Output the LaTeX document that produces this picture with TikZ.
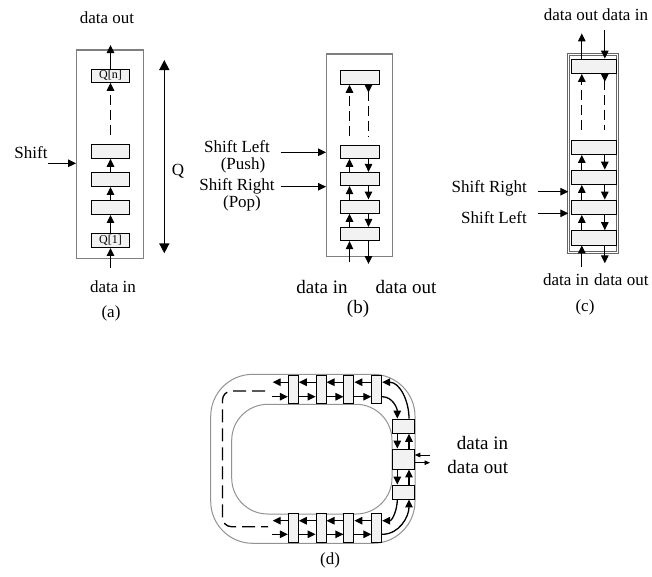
\documentclass[tikz,border=0pt]{standalone}
\usepackage{fontspec}
\setmainfont{Liberation Serif}
\usetikzlibrary{arrows.meta,calc}
\definecolor{cellgray}{HTML}{F2F2F2}
\definecolor{framegray}{HTML}{7F7F7F}
\newcommand\myfs[1]{\fontsize{#1}{#1}\selectfont}
\tikzset{
  cell/.style={draw=black, fill=cellgray, line width=0.9pt, inner sep=0pt},
  frame/.style={draw=framegray, line width=1.4pt, inner sep=0pt},
  cframe/.style={draw=framegray!80!black, double=white, line width=1pt, double distance=1.3pt, inner sep=0pt},
  dframe/.style={draw=framegray!85, line width=1pt, inner sep=0pt},
  arr/.style={-{Triangle[length=8pt,width=7.5pt]}, line width=1.3pt},
  rarr/.style={{Triangle[length=8pt,width=7.5pt,reversed]}-, line width=1.3pt},
  sarr/.style={-{Triangle[length=5.5pt,width=4.5pt]}, line width=0.9pt},
  qarr/.style={{Triangle[length=10pt,width=10pt]}-{Triangle[length=10pt,width=10pt]}, line width=1.5pt},
  dashpat/.style={dash pattern=on 10pt off 5pt},
  ddash/.style={dash pattern=on 13pt off 6pt, line width=1.3pt},
  t17/.style={font=\myfs{17}, inner sep=0pt},
  t19/.style={font=\myfs{19}, inner sep=0pt},
  qt/.style={font=\myfs{12}},
}
\begin{document}
\begin{tikzpicture}[x=1pt,y=1pt]
\useasboundingbox (0,0) rectangle (652,-576);
% ================= (a) =================
\node[frame, minimum width=66.6pt, minimum height=208.3pt] (fa) at (110,-154.2) {};
\node[cell, qt, minimum width=38pt, minimum height=13pt] (an) at (110.5,-75.8) {Q[n]};
\node[cell, minimum width=38pt, minimum height=14pt] (a4) at (110.5,-151.3) {};
\node[cell, minimum width=38pt, minimum height=14pt] (a3) at (110.5,-179.5) {};
\node[cell, minimum width=38pt, minimum height=14pt] (a2) at (110.5,-207.5) {};
\node[cell, qt, minimum width=38pt, minimum height=14pt] (a1) at (110.5,-240.5) {Q[1]};
\draw[arr] (a1.north) -- (a2.south);
\draw[arr] (a2.north) -- (a3.south);
\draw[arr] (a3.north) -- (a4.south);
\coordinate (adash) at (110.5,-135);
\draw[arr,dashpat] (adash) -- (an.south);
\coordinate (aout) at (110.5,-45);
\draw[arr] (an.north) -- (aout);
\coordinate (ain) at (110.5,-268);
\draw[arr] (ain) -- (a1.south);
\coordinate (ash) at (47.7,-163.3);
\draw[arr] (ash) -- (ash -| fa.west);
\coordinate (qtop) at (164.3,-60);
\coordinate (qbot) at (164.3,-253.3);
\draw[qarr] (qtop) -- (qbot);
\node[t17] (la1) at (107,-18) {data out};
\node[t17] (la2) at (31,-153) {Shift};
\node[t17] (la3) at (178,-171) {Q};
\node[t17] (la4) at (113,-287) {data in};
\node[t17] (la5) at (111,-313) {(a)};
% ================= (b) =================
\node[frame, minimum width=65.6pt, minimum height=202.7pt] (fb) at (359.5,-155.35) {};
\node[cell, minimum width=39pt, minimum height=13.6pt] (bn) at (359.5,-77.5) {};
\node[cell, minimum width=39pt, minimum height=13.4pt] (b4) at (359.5,-151.7) {};
\node[cell, minimum width=39pt, minimum height=13.4pt] (b3) at (359.5,-179) {};
\node[cell, minimum width=39pt, minimum height=13.4pt] (b2) at (359.5,-206.7) {};
\node[cell, minimum width=39pt, minimum height=13.4pt] (b1) at (359.5,-234) {};
\foreach \lo/\hi in {b1/b2,b2/b3,b3/b4}{
  \draw[arr] ([xshift=-10pt]\lo.north) -- ([xshift=-10pt]\hi.south);
  \draw[arr] ([xshift=9pt]\hi.south) -- ([xshift=9pt]\lo.north);
}
\coordinate (bdu) at (349.5,-136);
\coordinate (bdd) at (368.5,-136);
\draw[arr,dashpat] (bdu) -- ([xshift=-10pt]bn.south);
\draw[rarr,dashpat] ([xshift=9pt]bn.south) -- (bdd);
\coordinate (bin) at (349.5,-261.7);
\coordinate (bout) at (368.5,-264);
\draw[arr] (bin) -- ([xshift=-10pt]b1.south);
\draw[arr] ([xshift=9pt]b1.south) -- (bout);
\coordinate (bsl) at (280.7,-152.3);
\coordinate (bsr) at (280.7,-186.7);
\draw[arr] (bsl) -- (bsl -| fb.west);
\draw[arr] (bsr) -- (bsr -| fb.west);
\node[t17] (lb1) at (237,-146.5) {Shift Left};
\node[t17] (lb2) at (243,-165.5) {(Push)};
\node[t17] (lb3) at (237,-186) {Shift Right};
\node[t17] (lb4) at (242,-203) {(Pop)};
\node[t19] (lb5) at (322,-287) {data in};
\node[t19] (lb6) at (406,-287) {data out};
\node[t19] (lb7) at (358,-309) {(b)};
% ================= (c) =================
\node[cframe, minimum width=49pt, minimum height=197.7pt] (fc) at (593.3,-153.65) {};
\node[cell, minimum width=44.3pt, minimum height=14.3pt] (cn) at (593.8,-66.2) {};
\node[cell, minimum width=44.3pt, minimum height=14.3pt] (c4) at (593.8,-147.2) {};
\node[cell, minimum width=44.3pt, minimum height=14.3pt] (c3) at (593.8,-177.2) {};
\node[cell, minimum width=44.3pt, minimum height=14.3pt] (c2) at (593.8,-207.2) {};
\node[cell, minimum width=44.3pt, minimum height=14.3pt] (c1) at (593.8,-237.8) {};
\foreach \lo/\hi in {c1/c2,c2/c3,c3/c4}{
  \draw[arr] ([xshift=-12pt]\lo.north) -- ([xshift=-12pt]\hi.south);
  \draw[arr] ([xshift=11pt]\hi.south) -- ([xshift=11pt]\lo.north);
}
\coordinate (cdu) at (581.8,-130);
\coordinate (cdd) at (604.8,-130);
\draw[arr,dashpat] (cdu) -- ([xshift=-12pt]cn.south);
\draw[rarr,dashpat] ([xshift=11pt]cn.south) -- (cdd);
\coordinate (ctout) at (581.8,-33.3);
\coordinate (ctin) at (604.8,-30);
\draw[arr] ([xshift=-12pt]cn.north) -- (ctout);
\draw[arr] (ctin) -- ([xshift=11pt]cn.north);
\coordinate (cbin) at (581.8,-266.7);
\coordinate (cbout) at (604.8,-263.3);
\draw[arr] (cbin) -- ([xshift=-12pt]c1.south);
\draw[arr] ([xshift=11pt]c1.south) -- (cbout);
\coordinate (csr) at (538,-191.7);
\coordinate (csl) at (538,-213.3);
\draw[arr] (csr) -- (csr -| fc.west);
\draw[arr] (csl) -- (csl -| fc.west);
\node[t17, anchor=east] (lc1) at (527,-188) {Shift Right};
\node[t17, anchor=east] (lc2) at (527,-218) {Shift Left};
\node[t17] (lc3) at (571,-15) {data out};
\node[t17, anchor=west] (lc4) at (602,-15) {data in};
\node[t17] (lc5) at (566,-280) {data in};
\node[t17, anchor=west] (lc6) at (594,-280) {data out};
\node[t17] (lc7) at (585,-307) {(c)};
% ================= (d) =================
\node[dframe, rounded corners=42pt, minimum width=204.3pt, minimum height=169pt] (fdo) at (312.85,-458.8) {};
\node[dframe, rounded corners=36pt, minimum width=160.3pt, minimum height=109.7pt] (fdi) at (311.85,-459.15) {};
\coordinate (dtop) at (265,-391);
\coordinate (dbot) at (268,-526.7);
\draw[ddash, rounded corners=9pt] (dtop) -- (222.5,-391) -- (222.5,-526.7) -- (dbot);
\foreach \i/\x in {1/293.3,2/321.1,3/348.9,4/376.7}{
  \node[cell, minimum width=10pt, minimum height=28.3pt] (t\i) at (\x,-389.2) {};
  \node[cell, minimum width=10pt, minimum height=29.4pt] (u\i) at (\x,-528) {};
}
\node[cell, minimum width=22pt, minimum height=14.3pt] (r1) at (403.3,-426.2) {};
\node[cell, minimum width=22pt, minimum height=20pt] (r2) at (403.3,-459) {};
\node[cell, minimum width=22pt, minimum height=14pt] (r3) at (403.3,-492) {};
% top row arrows
\coordinate (tl) at (272.7,-382.2);
\coordinate (tr) at (271.7,-396.7);
\draw[arr] ([yshift=7pt]t1.west) -- (tl);
\draw[arr] (tr) -- ([yshift=-7.5pt]t1.west);
% bottom row arrows
\coordinate (ul) at (272.7,-520.7);
\coordinate (ur) at (271.7,-534.3);
\draw[arr] ([yshift=7.3pt]u1.west) -- (ul);
\draw[arr] (ur) -- ([yshift=-6.3pt]u1.west);
\foreach \a/\b in {1/2,2/3,3/4}{
  \draw[arr] ([yshift=7pt]t\b.west) -- ([yshift=7pt]t\a.east);
  \draw[arr] ([yshift=-7.5pt]t\a.east) -- ([yshift=-7.5pt]t\b.west);
  \draw[arr] ([yshift=7.3pt]u\b.west) -- ([yshift=7.3pt]u\a.east);
  \draw[arr] ([yshift=-6.3pt]u\a.east) -- ([yshift=-6.3pt]u\b.west);
}
% right column arrows
\draw[arr] ([xshift=-6pt]r1.south) -- ([xshift=-6pt]r2.north);
\draw[arr] ([xshift=5.7pt]r2.north) -- ([xshift=5.7pt]r1.south);
\draw[arr] ([xshift=-6pt]r2.south) -- ([xshift=-6pt]r3.north);
\draw[arr] ([xshift=5.7pt]r3.north) -- ([xshift=5.7pt]r2.south);
% curved corner arrows
\draw[arr] ([yshift=-7.5pt]t4.east) to[out=0,in=90] ([xshift=-6pt]r1.north);
\draw[arr] ([xshift=5.7pt]r1.north) to[out=90,in=0] ([yshift=7pt]t4.east);
\draw[arr] ([xshift=-6pt]r3.south) to[out=-90,in=0] ([yshift=7.3pt]u4.east);
\draw[arr] ([yshift=-6.3pt]u4.east) to[out=0,in=-90] ([xshift=5.7pt]r3.south);
% data in / out
\coordinate (ddin) at (430,-455);
\coordinate (ddout) at (430,-462.7);
\draw[sarr] (ddin) -- (ddin -| r2.east);
\draw[sarr] (ddout -| r2.east) -- (ddout);
\node[t19, anchor=east] (ld1) at (508.3,-443.3) {data in};
\node[t19, anchor=east] (ld2) at (508.3,-466.7) {data out};
\node[t17] (ld3) at (330,-560) {(d)};
\end{tikzpicture}
\end{document}
